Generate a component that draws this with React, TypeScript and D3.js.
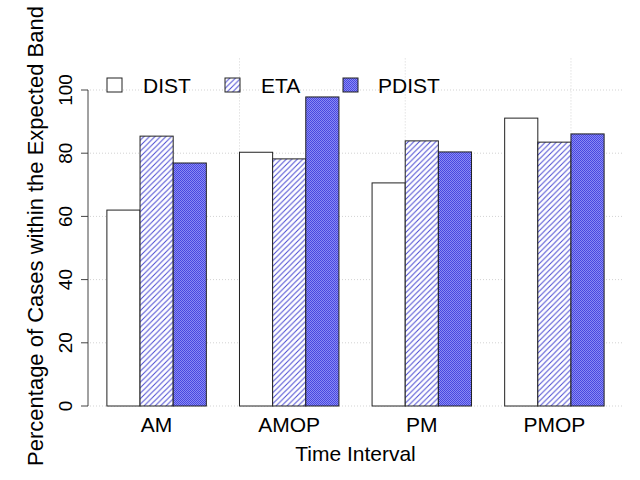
import React from "react";
import * as d3 from "d3";

const categories = ["AM", "AMOP", "PM", "PMOP"];
const seriesNames = ["DIST", "ETA", "PDIST"];
const distValues = [62.0, 80.3, 70.6, 91.1];
const etaValues = [85.4, 78.2, 83.9, 83.5];
const pdistValues = [76.9, 97.8, 80.4, 86.1];
const yTicks = [0, 20, 40, 60, 80, 100];

const seriesValues = [distValues, etaValues, pdistValues];
const fills = ["#ffffff", "url(#hatchEta)", "url(#hatchPdist)"];
const FONT = "'Liberation Sans', Arial, Helvetica, sans-serif";

export default function App() {
  const width = 640;
  const height = 480;
  const plot = { left: 87, right: 624, top: 58.4, bottom: 406 };

  // bars laid out in unit positions: each group has 3 bars, with one unit of space before it
  const x = d3.scaleLinear().domain([0.4, 16.6]).range([plot.left, plot.right]);
  const y = d3.scaleLinear().domain([0, 110]).range([plot.bottom, plot.top]);
  const gridX = x.ticks(3);

  const bars: { key: string; x0: number; x1: number; v: number; s: number }[] = [];
  categories.forEach((c, g) => {
    seriesValues.forEach((vals, s) => {
      const left = 1 + g * 4 + s;
      bars.push({ key: `${c}-${s}`, x0: x(left), x1: x(left + 1), v: vals[g], s });
    });
  });

  const legendItems = [
    { box: 107, text: 143 },
    { box: 225, text: 261 },
    { box: 343, text: 378 },
  ];

  return (
    <svg width={width} height={height} style={{ display: "block", position: "absolute", left: 0, top: 0 }}>
      <defs>
        <pattern id="hatchEta" patternUnits="userSpaceOnUse" width="5.5" height="5.5">
          <rect width="5.5" height="5.5" fill="#ffffff" />
          <path d="M-1,1 l2,-2 M0,5.5 l5.5,-5.5 M4.5,6.5 l2,-2" stroke="#4a4ad2" strokeWidth="1" />
        </pattern>
        <pattern id="hatchPdist" patternUnits="userSpaceOnUse" width="2" height="2">
          <rect width="2" height="2" fill="#8a8af4" />
          <rect width="1" height="1" fill="#4848e0" />
          <rect x="1" y="1" width="1" height="1" fill="#4848e0" />
        </pattern>
      </defs>
      <rect width={width} height={height} fill="#ffffff" />

      {/* grid */}
      <g stroke="#d3d3d3" strokeDasharray="1,2" strokeWidth="1">
        {yTicks.map((t) => (
          <line key={`gy${t}`} x1={plot.left} x2={plot.right} y1={y(t)} y2={y(t)} />
        ))}
        {gridX.map((t) => (
          <line key={`gx${t}`} x1={x(t)} x2={x(t)} y1={plot.top} y2={plot.bottom} />
        ))}
      </g>

      {/* bars */}
      {bars.map((b) => (
        <rect
          key={b.key}
          x={b.x0}
          y={y(b.v)}
          width={b.x1 - b.x0}
          height={y(0) - y(b.v)}
          fill={fills[b.s]}
          stroke="#222222"
          strokeWidth="1"
        />
      ))}

      {/* y axis */}
      <g stroke="#444444" strokeWidth="1">
        <line x1={plot.left + 1} x2={plot.left + 1} y1={y(0)} y2={y(100)} />
        {yTicks.map((t) => (
          <line key={`t${t}`} x1={plot.left + 1} x2={plot.left - 6} y1={y(t)} y2={y(t)} />
        ))}
      </g>
      <g fontFamily={FONT} fontSize="19" fill="#000">
        {yTicks.map((t) => (
          <text key={`l${t}`} transform={`translate(72,${y(t)}) rotate(-90)`} textAnchor="middle">
            {t}
          </text>
        ))}
        <text transform={`translate(43,236) rotate(-90)`} textAnchor="middle" fontSize="22">
          Percentage of Cases within the Expected Band
        </text>
        {categories.map((c, g) => (
          <text key={c} x={x(1 + g * 4 + 1.5)} y={432} textAnchor="middle" fontSize="21">
            {c}
          </text>
        ))}
        <text x={(plot.left + plot.right) / 2} y={461} textAnchor="middle" fontSize="21">
          Time Interval
        </text>
      </g>

      {/* legend */}
      <g fontFamily={FONT} fontSize="21">
        {seriesNames.map((n, i) => (
          <g key={n}>
            <rect x={legendItems[i].box} y={78} width={15} height={14} fill={fills[i]} stroke="#222222" />
            <text x={legendItems[i].text} y={93}>{n}</text>
          </g>
        ))}
      </g>
    </svg>
  );
}
